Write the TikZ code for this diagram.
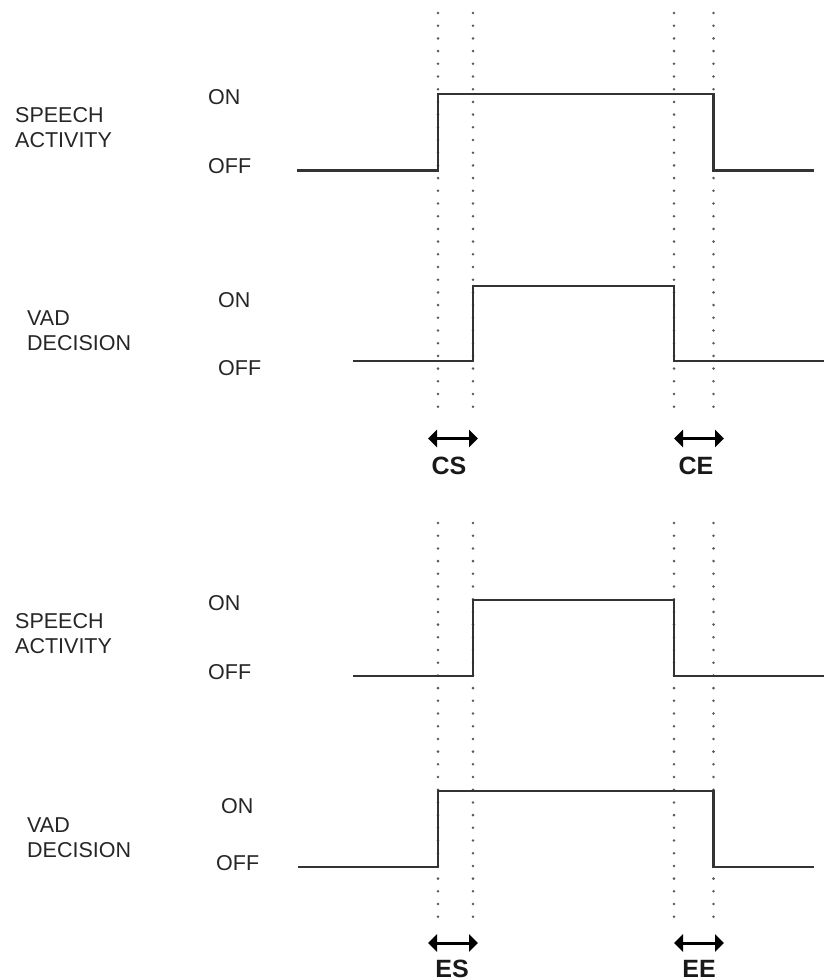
\documentclass[tikz,border=0pt]{standalone}
\usepackage{fontspec}
\setmainfont{Liberation Sans}
\usetikzlibrary{arrows.meta}
\begin{document}
\begin{tikzpicture}[x=1pt,y=-1pt,
  lbl/.style={anchor=west,inner sep=0pt,font=\fontsize{21.5}{25}\selectfont,text=black!85,align=left},
  tag/.style={inner sep=0pt,font=\fontsize{25}{28}\selectfont\bfseries,text=black!90},
  wave/.style={line width=2.2pt,draw=black!80,line join=miter},
  dotline/.style={line width=2.8pt,draw=black!65,dash pattern=on 0pt off 12.7pt,line cap=round},
  span/.style={line width=3pt,draw=black,{Triangle[length=9pt,width=17pt]}-{Triangle[length=9pt,width=17pt]}}]
\useasboundingbox (0,0) rectangle (824,980);
\fill[white] (0,0) rectangle (824,980);

% dotted guide lines
\foreach \n/\xx in {a/438,b/473,c/674,d/713.5}{
  \coordinate (\n1t) at (\xx,13);
  \coordinate (\n1b) at (\xx,408);
  \coordinate (\n2t) at (\xx,523);
  \coordinate (\n2b) at (\xx,919);
  \draw[dotline] (\n1t) -- (\n1b);
  \draw[dotline] (\n2t) -- (\n2b);
}

% ---- group 1: speech activity
\node[lbl] (sa1) at (15,127.5) {SPEECH\\ACTIVITY};
\node[lbl] (sa1on) at (208,97) {ON};
\node[lbl] (sa1off) at (208,166) {OFF};
\coordinate (s1p0) at (297,170.5);
\coordinate (s1p1) at (438,170.5);
\coordinate (s1p2) at (438,94);
\coordinate (s1p3) at (713.5,94);
\coordinate (s1p4) at (713.5,170.5);
\coordinate (s1p5) at (814,170.5);
\draw[wave] (s1p0) -- (s1p1) -- (s1p2) -- (s1p3) -- (s1p4) -- (s1p5);

% ---- group 1: VAD decision
\node[lbl] (vd1) at (27,330.5) {VAD\\DECISION};
\node[lbl] (vd1on) at (218,300) {ON};
\node[lbl] (vd1off) at (218,368) {OFF};
\coordinate (v1p0) at (353,361);
\coordinate (v1p1) at (473,361);
\coordinate (v1p2) at (473,286);
\coordinate (v1p3) at (674,286);
\coordinate (v1p4) at (674,361);
\coordinate (v1p5) at (824,361);
\draw[wave] (v1p0) -- (v1p1) -- (v1p2) -- (v1p3) -- (v1p4) -- (v1p5);

% CS / CE
\coordinate (cs0) at (428,438.5);
\coordinate (cs1) at (478,438.5);
\coordinate (ce0) at (674,438.5);
\coordinate (ce1) at (724,438.5);
\draw[span] (cs0) -- (cs1);
\draw[span] (ce0) -- (ce1);
\node[tag] (cs) at (449,466) {CS};
\node[tag] (ce) at (696,466) {CE};

% ---- group 2: speech activity
\node[lbl] (sa2) at (15,633.5) {SPEECH\\ACTIVITY};
\node[lbl] (sa2on) at (208,603) {ON};
\node[lbl] (sa2off) at (208,672) {OFF};
\coordinate (s2p0) at (353,676);
\coordinate (s2p1) at (473,676);
\coordinate (s2p2) at (473,600);
\coordinate (s2p3) at (674,600);
\coordinate (s2p4) at (674,676);
\coordinate (s2p5) at (824,676);
\draw[wave] (s2p0) -- (s2p1) -- (s2p2) -- (s2p3) -- (s2p4) -- (s2p5);

% ---- group 2: VAD decision
\node[lbl] (vd2) at (27,837.5) {VAD\\DECISION};
\node[lbl] (vd2on) at (221,806) {ON};
\node[lbl] (vd2off) at (216,863) {OFF};
\coordinate (v2p0) at (298,867);
\coordinate (v2p1) at (438,867);
\coordinate (v2p2) at (438,791);
\coordinate (v2p3) at (713.5,791);
\coordinate (v2p4) at (713.5,867);
\coordinate (v2p5) at (814,867);
\draw[wave] (v2p0) -- (v2p1) -- (v2p2) -- (v2p3) -- (v2p4) -- (v2p5);

% ES / EE
\coordinate (es0) at (428,943);
\coordinate (es1) at (478,943);
\coordinate (ee0) at (674,943);
\coordinate (ee1) at (724,943);
\draw[span] (es0) -- (es1);
\draw[span] (ee0) -- (ee1);
\node[tag] (es) at (452,968.5) {ES};
\node[tag] (ee) at (699,968.5) {EE};
\end{tikzpicture}
\end{document}
